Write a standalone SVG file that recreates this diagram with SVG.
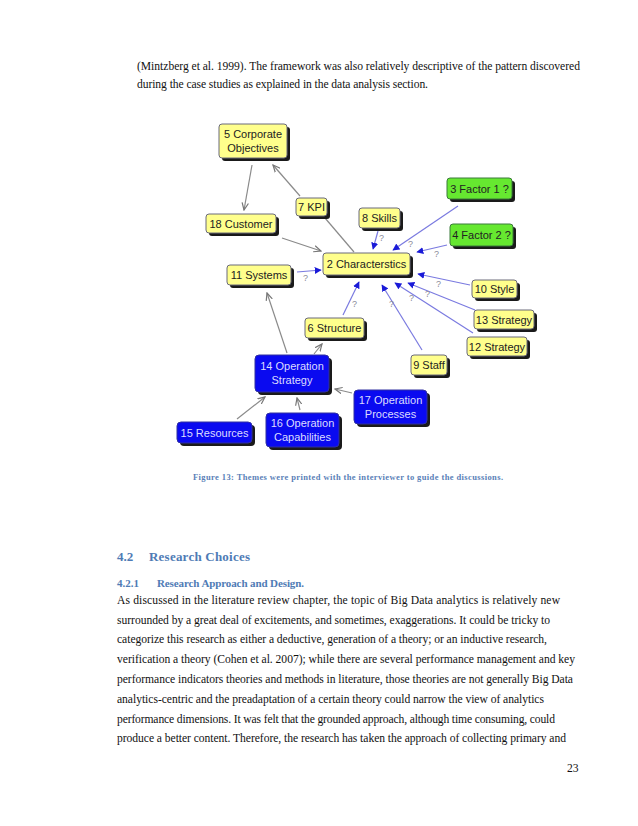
<svg xmlns="http://www.w3.org/2000/svg" width="638" height="826" viewBox="0 0 638 826">
<defs>
<style>
.body{font-family:"Liberation Serif","Times New Roman",serif;font-size:11.6px;fill:#111}
.cap{font-family:"Liberation Serif","Times New Roman",serif;font-size:8.5px;font-weight:bold;fill:#5a7fb8}
.h1{font-family:"Liberation Serif","Times New Roman",serif;font-size:13px;font-weight:bold;fill:#4f7bb5}
.h2{font-family:"Liberation Serif","Times New Roman",serif;font-size:11px;font-weight:bold;fill:#4f7bb5}
.sh{fill:#1a1a1a}
.y{fill:#ffff8c;stroke:#6a6a7a;stroke-width:1}
.g{fill:#66e830;stroke:#3a7a3a;stroke-width:1}
.b{fill:#0a0af0;stroke:#3030a0;stroke-width:1}
.nt{font-family:"Liberation Sans",Arial,sans-serif;font-size:11px;fill:#222;text-anchor:middle}
.nw{font-family:"Liberation Sans",Arial,sans-serif;font-size:11px;fill:#dcdcff;text-anchor:middle}
.bl{stroke:#7a7ae0;stroke-width:1.2;fill:none;marker-end:url(#ab)}
.gr{stroke:#8a8a8a;stroke-width:1.2;fill:none;marker-end:url(#ag)}
.q{font-family:"Liberation Sans",Arial,sans-serif;font-size:9px;fill:#8a8a9a}
</style>
<marker id="ab" viewBox="0 0 10 10" refX="9" refY="5" markerWidth="7" markerHeight="7" orient="auto" markerUnits="userSpaceOnUse"><path d="M0,0 L10,5 L0,10 z" fill="#1a1ad8"/></marker>
<marker id="ag" viewBox="0 0 10 10" refX="9" refY="5" markerWidth="8" markerHeight="8" orient="auto" markerUnits="userSpaceOnUse"><path d="M0,1 L9,5 L0,9" fill="none" stroke="#777" stroke-width="1.5"/></marker>
</defs>
<rect width="638" height="826" fill="#fff"/>

<g id="page-text">
<text class="body" x="137" y="70" textLength="443">(Mintzberg et al. 1999). The framework was also relatively descriptive of the pattern discovered</text>
<text class="body" x="137" y="88" textLength="291">during the case studies as explained in the data analysis section.</text>
<text class="cap" x="193" y="480" textLength="310">Figure 13: Themes were printed with the interviewer to guide the discussions.</text>
<text class="h1" x="117" y="561">4.2</text>
<text class="h1" x="149" y="561" textLength="101">Research Choices</text>
<text class="h2" x="117" y="587">4.2.1</text>
<text class="h2" x="157" y="587" textLength="147">Research Approach and Design.</text>
<text class="body" x="117" y="604" textLength="443">As discussed in the literature review chapter, the topic of Big Data analytics is relatively new</text>
<text class="body" x="117" y="624" textLength="433">surrounded by a great deal of excitements, and sometimes, exaggerations. It could be tricky to</text>
<text class="body" x="117" y="643" textLength="430">categorize this research as either a deductive, generation of a theory; or an inductive research,</text>
<text class="body" x="117" y="663" textLength="458">verification a theory (Cohen et al. 2007);  while there are several performance management and key</text>
<text class="body" x="117" y="683" textLength="456">performance indicators theories and methods in literature, those theories are not generally Big Data</text>
<text class="body" x="117" y="703" textLength="427">analytics-centric and the preadaptation of a certain theory could narrow the view of analytics</text>
<text class="body" x="117" y="723" textLength="438">performance dimensions. It was felt that the grounded approach, although time consuming, could</text>
<text class="body" x="117" y="742" textLength="449">produce a better content. Therefore, the research has taken the approach of collecting primary and</text>
<text class="body" x="567" y="772">23</text>
</g>

<g id="connectors">
<line class="gr" x1="252" y1="165" x2="244" y2="210"/>
<line class="gr" x1="300" y1="196" x2="273" y2="165"/>
<line x1="325" y1="218" x2="354" y2="252" stroke="#8a8a8a" stroke-width="1.2"/>
<line class="gr" x1="282" y1="238" x2="321" y2="251"/>
<line class="gr" x1="287" y1="353" x2="267" y2="293"/>
<line class="gr" x1="314" y1="354" x2="322" y2="344"/>
<line class="gr" x1="237" y1="419" x2="265" y2="397"/>
<line class="gr" x1="300" y1="410" x2="297" y2="398"/>
<line class="gr" x1="352" y1="393" x2="335" y2="389"/>
<line class="bl" x1="378" y1="231" x2="373" y2="249"/>
<line class="bl" x1="458" y1="206" x2="393" y2="250"/>
<line class="bl" x1="447" y1="245" x2="417" y2="252"/>
<line class="bl" x1="297" y1="272" x2="321" y2="270"/>
<line class="bl" x1="470" y1="285" x2="418" y2="274"/>
<line class="bl" x1="475" y1="310" x2="408" y2="283"/>
<line class="bl" x1="473" y1="333" x2="395" y2="283"/>
<line class="bl" x1="422" y1="350" x2="382" y2="285"/>
<line class="bl" x1="343" y1="315" x2="359" y2="282"/>
<text class="q" x="379" y="241">?</text>
<text class="q" x="408" y="247">?</text>
<text class="q" x="434" y="257">?</text>
<text class="q" x="303" y="281">?</text>
<text class="q" x="436" y="287">?</text>
<text class="q" x="425" y="297">?</text>
<text class="q" x="409" y="301">?</text>
<text class="q" x="389" y="307">?</text>
<text class="q" x="352" y="307">?</text>
</g>

<g id="n5"><rect class="sh" x="222" y="127" width="68" height="34" rx="3"/><rect class="y" x="219" y="124" width="68" height="34" rx="3"/><text class="nt" x="253" y="138">5 Corporate</text><text class="nt" x="253" y="152">Objectives</text></g>
<g id="n7"><rect class="sh" x="299" y="201" width="31" height="18" rx="3"/><rect class="y" x="296" y="198" width="31" height="18" rx="3"/><text class="nt" x="311.5" y="211">7 KPI</text></g>
<g id="n18"><rect class="sh" x="209" y="217" width="70" height="19" rx="3"/><rect class="y" x="206" y="214" width="70" height="19" rx="3"/><text class="nt" x="241" y="227.5">18 Customer</text></g>
<g id="n8"><rect class="sh" x="362" y="211" width="41" height="20" rx="3"/><rect class="y" x="359" y="208" width="41" height="20" rx="3"/><text class="nt" x="379.5" y="222">8 Skills</text></g>
<g id="n3"><rect class="sh" x="450" y="181" width="65" height="21" rx="3"/><rect class="g" x="447" y="178" width="65" height="21" rx="3"/><text class="nt" x="479.5" y="192.5">3 Factor 1 ?</text></g>
<g id="n4"><rect class="sh" x="453" y="227" width="63" height="22" rx="3"/><rect class="g" x="450" y="224" width="63" height="22" rx="3"/><text class="nt" x="481.5" y="239">4 Factor 2 ?</text></g>
<g id="n2"><rect class="sh" x="326" y="256" width="87" height="22" rx="3"/><rect class="y" x="323" y="253" width="87" height="22" rx="3"/><text class="nt" x="366.5" y="268">2 Characterstics</text></g>
<g id="n11"><rect class="sh" x="230" y="268" width="64" height="20" rx="3"/><rect class="y" x="227" y="265" width="64" height="20" rx="3"/><text class="nt" x="259" y="279">11 Systems</text></g>
<g id="n10"><rect class="sh" x="475" y="283" width="45" height="18" rx="3"/><rect class="y" x="472" y="280" width="45" height="18" rx="3"/><text class="nt" x="494.5" y="293">10 Style</text></g>
<g id="n13"><rect class="sh" x="477" y="313" width="60" height="19" rx="3"/><rect class="y" x="474" y="310" width="60" height="19" rx="3"/><text class="nt" x="504" y="323.5">13 Strategy</text></g>
<g id="n12"><rect class="sh" x="470" y="340" width="60" height="19" rx="3"/><rect class="y" x="467" y="337" width="60" height="19" rx="3"/><text class="nt" x="497" y="350.5">12 Strategy</text></g>
<g id="n6"><rect class="sh" x="308" y="321" width="59" height="20" rx="3"/><rect class="y" x="305" y="318" width="59" height="20" rx="3"/><text class="nt" x="334.5" y="332">6 Structure</text></g>
<g id="n9"><rect class="sh" x="414" y="358" width="36" height="20" rx="3"/><rect class="y" x="411" y="355" width="36" height="20" rx="3"/><text class="nt" x="429" y="369">9 Staff</text></g>
<g id="n14"><rect class="sh" x="258" y="358" width="74" height="37" rx="4"/><rect class="b" x="255" y="355" width="74" height="37" rx="4"/><text class="nw" x="292" y="370">14 Operation</text><text class="nw" x="292" y="384">Strategy</text></g>
<g id="n17"><rect class="sh" x="357" y="393" width="73" height="34" rx="4"/><rect class="b" x="354" y="390" width="73" height="34" rx="4"/><text class="nw" x="390.5" y="404">17 Operation</text><text class="nw" x="390.5" y="418">Processes</text></g>
<g id="n15"><rect class="sh" x="180" y="425" width="75" height="21" rx="4"/><rect class="b" x="177" y="422" width="75" height="21" rx="4"/><text class="nw" x="214.5" y="436.5">15 Resources</text></g>
<g id="n16"><rect class="sh" x="269" y="416" width="73" height="34" rx="4"/><rect class="b" x="266" y="413" width="73" height="34" rx="4"/><text class="nw" x="302.5" y="427">16 Operation</text><text class="nw" x="302.5" y="441">Capabilities</text></g>
</svg>
